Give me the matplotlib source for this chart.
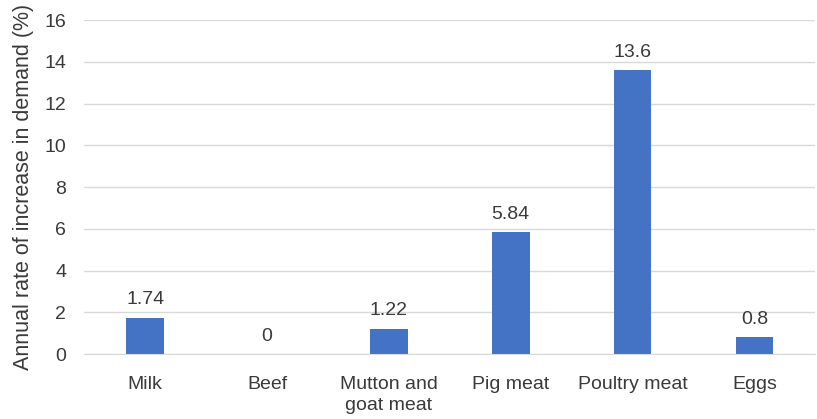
import matplotlib.pyplot as plt

# demand growth per livestock product
categories = ["Milk", "Beef", "Mutton and\ngoat meat", "Pig meat", "Poultry meat", "Eggs"]
rates = [1.74, 0, 1.22, 5.84, 13.6, 0.8]
rate_labels = ["1.74", "0", "1.22", "5.84", "13.6", "0.8"]

plt.rcParams['font.family'] = ['Liberation Sans', 'DejaVu Sans']
text_color = "#3a3a3a"

fig = plt.figure(figsize=(8.17, 4.19), dpi=100)
ax = fig.add_axes([0.103, 0.155, 0.895, 0.797])

x = range(len(categories))
bars = ax.bar(x, rates, width=0.31, color="#4472C4", zorder=2)

for xi, val, lab in zip(x, rates, rate_labels):
    ax.text(xi, val + 0.45, lab, ha="center", va="bottom", fontsize=14, color=text_color)

ax.set_ylim(0, 16)
ax.set_xlim(-0.5, len(categories) - 0.5)
ax.set_yticks(range(0, 17, 2))
ax.yaxis.grid(True, color="#d9d9d9", linewidth=1, zorder=0)
ax.set_axisbelow(True)

ax.set_xticks(list(x))
ax.set_xticklabels(categories, fontsize=14, color=text_color, linespacing=1.3)
ax.tick_params(axis="y", labelsize=14, colors=text_color, length=0, pad=13)
ax.tick_params(axis="x", length=0, pad=16)

for side in ["top", "right", "left"]:
    ax.spines[side].set_visible(False)
ax.spines["bottom"].set_color("#d9d9d9")

ax.set_ylabel("Annual rate of increase in demand (%)", fontsize=15.5, color=text_color, labelpad=7)

plt.savefig("out.png", dpi=100)
